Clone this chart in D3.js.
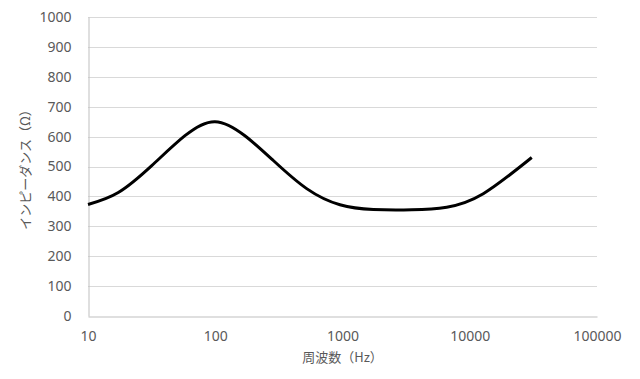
<!DOCTYPE html>
<html>
<head>
<meta charset="utf-8">
<script src="https://cdn.jsdelivr.net/npm/d3@7"></script>
<style>
  body { margin: 0; background: #fff; }
  svg { display: block; font-family: "Noto Sans CJK JP", "Noto Sans", sans-serif; }
</style>
</head>
<body>
<svg id="chart" width="640" height="379"></svg>
<script>
// impedance curve
const freqs = [10, 17.3, 31.7, 57.8, 99.6, 171, 286, 523, 955, 1748, 3500, 6590, 12770, 30700];
const impedance = [373, 413, 503, 603, 650, 603, 520, 426, 372, 356, 355, 364, 409, 530];
const yTicks = [0, 100, 200, 300, 400, 500, 600, 700, 800, 900, 1000];
const xTicks = [10, 100, 1000, 10000, 100000];

const margin = { top: 17, right: 43, bottom: 63, left: 88 };
const width = 640, height = 379;

const svg = d3.select('#chart');

const x = d3.scaleLog()
    .domain([10, 100000])
    .range([margin.left, width - margin.right]);

const y = d3.scaleLinear()
    .domain([0, 1000])
    .range([height - margin.bottom, margin.top]);

// horizontal gridlines
svg.append('g')
    .attr('class', 'grid')
    .selectAll('line')
    .data(yTicks.filter(d => d > 0))
    .enter()
    .append('line')
    .attr('x1', x(10))
    .attr('x2', x(100000))
    .attr('y1', d => Math.round(y(d)) + 0.5)
    .attr('y2', d => Math.round(y(d)) + 0.5)
    .attr('stroke', '#d9d9d9')
    .attr('stroke-width', 1);

// axes
const yAxis = svg.append('g')
    .attr('transform', `translate(${Math.round(x(10)) + 0.5},0)`)
    .call(d3.axisLeft(y).tickValues(yTicks).tickSize(0).tickPadding(17).tickFormat(d3.format('d')));

const xAxis = svg.append('g')
    .attr('transform', `translate(0,${Math.round(y(0)) + 0.5})`)
    .call(d3.axisBottom(x).tickValues(xTicks).tickSize(0).tickPadding(15).tickFormat(d3.format('d')));

[yAxis, xAxis].forEach(a => {
    a.select('.domain').attr('stroke', '#bfbfbf').attr('stroke-width', 1);
    a.selectAll('text')
        .attr('fill', '#595959')
        .style('font-size', '14px')
        .style('font-family', '"Noto Sans", sans-serif');
});

// curve
const line = d3.line()
    .x((d, i) => x(freqs[i]))
    .y(d => y(d))
    .curve(d3.curveNatural);

svg.append('path')
    .datum(impedance)
    .attr('fill', 'none')
    .attr('stroke', '#000')
    .attr('stroke-width', 3)
    .attr('stroke-linejoin', 'round')
    .attr('d', line);

// axis titles
svg.append('text')
    .attr('x', (x(10) + x(100000)) / 2)
    .attr('y', 362)
    .attr('text-anchor', 'middle')
    .attr('fill', '#595959')
    .style('font-size', '13px')
    .text('周波数（Hz）');

svg.append('text')
    .attr('transform', `translate(30,${(y(0) + y(1000)) / 2}) rotate(-90)`)
    .attr('text-anchor', 'middle')
    .attr('fill', '#595959')
    .style('font-size', '13px')
    .text('インピーダンス（Ω）');
</script>
</body>
</html>
